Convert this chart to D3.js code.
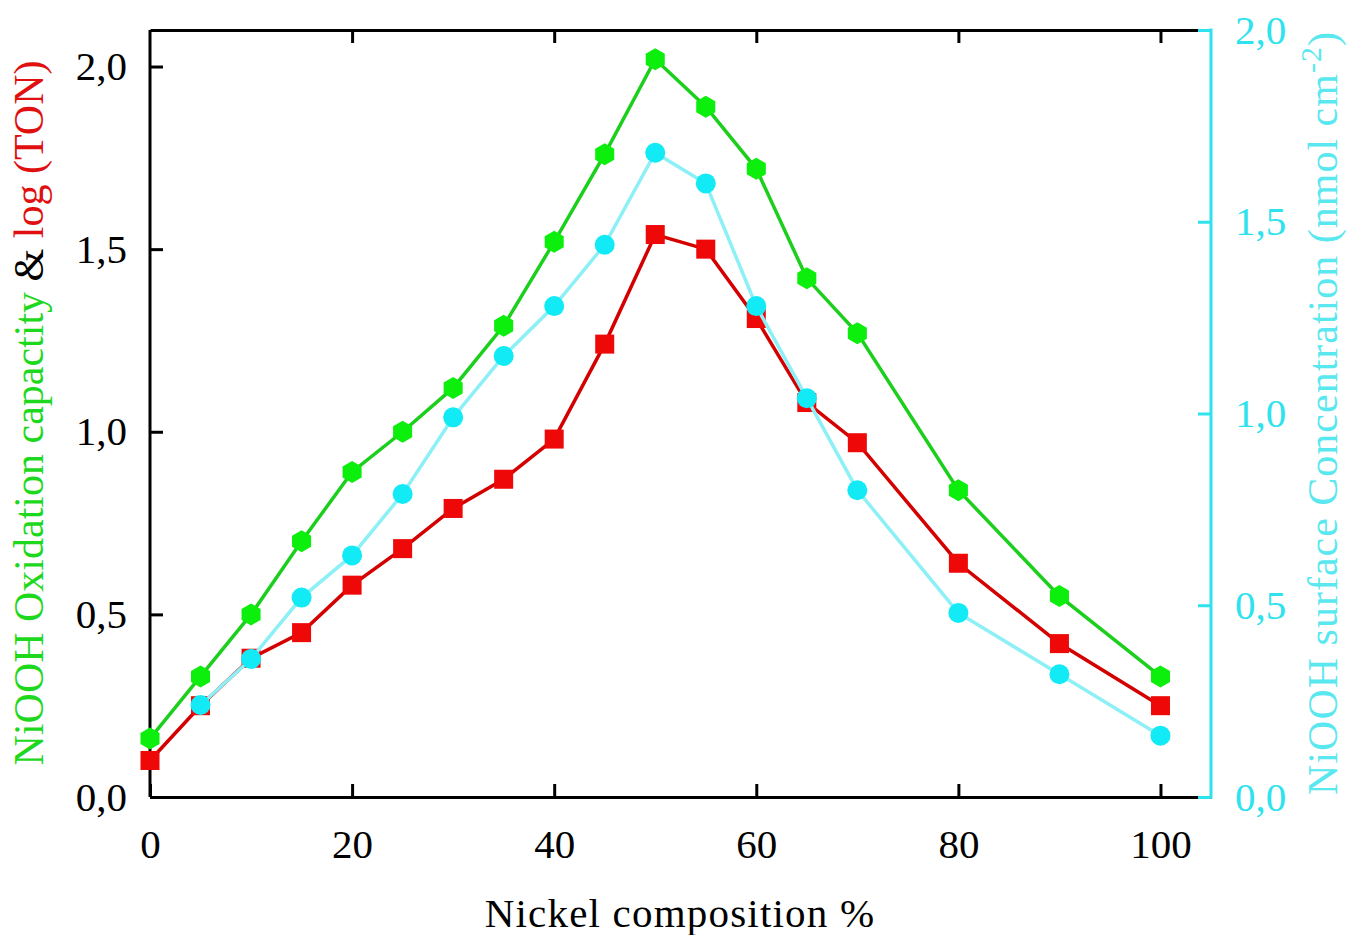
<!DOCTYPE html>
<html><head><meta charset="utf-8">
<script src="https://cdn.jsdelivr.net/npm/d3@7/dist/d3.min.js"></script>
<style>
html,body{margin:0;padding:0;background:#fff;}
svg{display:block;}
text{font-family:"Liberation Serif","Times New Roman",serif;}
</style></head>
<body>
<svg id="chart" width="1347" height="935"></svg>
<script>
// ---- data ----
const nickel = [0,5,10,15,20,25,30,35,40,45,50,55,60,65,70,80,90,100];
const oxidationCapacity = [0.16,0.33,0.50,0.70,0.89,1.00,1.12,1.29,1.52,1.76,2.02,1.89,1.72,1.42,1.27,0.84,0.55,0.33];
const logTON = [0.10,0.25,0.38,0.45,0.58,0.68,0.79,0.87,0.98,1.24,1.54,1.50,1.31,1.08,0.97,0.64,0.42,0.25];
const surfaceNickel = [5,10,15,20,25,30,35,40,45,50,55,60,65,70,80,90,100];
const surfaceConc = [0.24,0.36,0.52,0.63,0.79,0.99,1.15,1.28,1.44,1.68,1.60,1.28,1.04,0.80,0.48,0.32,0.16];
const xTicks = [0,20,40,60,80,100];
const yLeftTicks = [0,0.5,1.0,1.5,2.0];
const yRightTicks = [0,0.5,1.0,1.5,2.0];

const svg = d3.select("#chart");
const L = 150, R = 1211, T = 30, B = 797;
const x = d3.scaleLinear().domain([0,105]).range([L,R]);
const yL = d3.scaleLinear().domain([0,2.1]).range([B,T]);
const yR = d3.scaleLinear().domain([0,2.0]).range([B,T]);
const fmt = d => d3.format(".1f")(d).replace(".", ",");

const GREEN_M = "#0cee0c", GREEN_L = "#1ccf1c";
const RED_M = "#ee0808", RED_L = "#d40000";
const CYAN_M = "#12eaf6", CYAN_L = "#8cf0f6";
const CYAN_AX = "#2ee2ee";

// axes
function styleAxis(g, color, fs){
  g.selectAll(".domain").attr("stroke", color).attr("stroke-width", 3);
  g.selectAll(".tick line").attr("stroke", color).attr("stroke-width", 3);
  g.selectAll(".tick text").attr("fill", color).style("font-size", fs+"px")
   .style("font-family", '"Liberation Serif",serif');
}
const gx = svg.append("g").attr("transform",`translate(0,${B})`)
  .call(d3.axisBottom(x).tickValues(xTicks).tickSizeInner(-13).tickSizeOuter(0).tickPadding(32).tickFormat(d3.format("d")));
styleAxis(gx, "#000", 41);
const gxt = svg.append("g").attr("transform",`translate(0,${T})`)
  .call(d3.axisTop(x).tickValues(xTicks.filter(d=>d>0)).tickSizeInner(-13).tickSizeOuter(0).tickFormat(""));
styleAxis(gxt, "#000", 40);
const gyl = svg.append("g").attr("transform",`translate(${L},0)`)
  .call(d3.axisLeft(yL).tickValues(yLeftTicks).tickSizeInner(-13).tickSizeOuter(0).tickPadding(23).tickFormat(fmt));
styleAxis(gyl, "#000", 41);
gyl.selectAll(".domain").attr("d", `M0,${B}V${T}`);
const gyr = svg.append("g").attr("transform",`translate(${R},0)`)
  .call(d3.axisRight(yR).tickValues(yRightTicks).tickSizeInner(-13).tickSizeOuter(0).tickPadding(24).tickFormat(fmt));
styleAxis(gyr, CYAN_AX, 41);
gyr.selectAll(".domain").attr("d", `M0,${B+1.5}V${T-1.5}`);

// series
const hexPath = r => { const p=[]; for(let i=0;i<6;i++){const a=Math.PI/3*i - Math.PI/2; p.push([r*Math.cos(a), r*Math.sin(a)]);} return "M"+p.map(q=>q.join(",")).join("L")+"Z"; };

const lineG = d3.line().x((d,i)=>x(nickel[i])).y(d=>yL(d));
svg.append("path").attr("d", lineG(oxidationCapacity)).attr("fill","none").attr("stroke",GREEN_L).attr("stroke-width",3.5);
svg.append("g").selectAll("path").data(oxidationCapacity).join("path")
  .attr("transform",(d,i)=>`translate(${x(nickel[i])},${yL(d)})`).attr("d", hexPath(11)).attr("fill",GREEN_M);

svg.append("path").attr("d", lineG(logTON)).attr("fill","none").attr("stroke",RED_L).attr("stroke-width",3.5);
svg.append("g").selectAll("rect").data(logTON).join("rect")
  .attr("x",(d,i)=>x(nickel[i])-9.5).attr("y",d=>yL(d)-9.5).attr("width",19).attr("height",19).attr("fill",RED_M);

const lineC = d3.line().x((d,i)=>x(surfaceNickel[i])).y(d=>yR(d));
svg.append("path").attr("d", lineC(surfaceConc)).attr("fill","none").attr("stroke",CYAN_L).attr("stroke-width",3.5);
svg.append("g").selectAll("circle").data(surfaceConc).join("circle")
  .attr("cx",(d,i)=>x(surfaceNickel[i])).attr("cy",d=>yR(d)).attr("r",10).attr("fill",CYAN_M);

// titles
svg.append("text").attr("x", 680).attr("y", 927).attr("text-anchor","middle")
  .style("font-size","41px").style("letter-spacing","1.2px").attr("fill","#000").text("Nickel composition %");

const lt = svg.append("text").attr("transform","translate(43,413) rotate(-90)").attr("text-anchor","middle")
  .style("font-size","42px");
lt.append("tspan").attr("fill","#1ed81e").text("NiOOH Oxidation capactity ");
lt.append("tspan").attr("fill","#000").text("& ");
lt.append("tspan").attr("fill","#e01010").text("log (TON)");

const rt = svg.append("text").attr("transform","translate(1337,413) rotate(-90)").attr("text-anchor","middle")
  .style("font-size","42px").style("letter-spacing","1px").attr("fill","#5ae8f0");
rt.append("tspan").text("NiOOH surface Concentration (nmol cm");
rt.append("tspan").attr("dy",-16).style("font-size","30px").text("-2");
rt.append("tspan").attr("dy",16).text(")");
</script>
</body></html>
